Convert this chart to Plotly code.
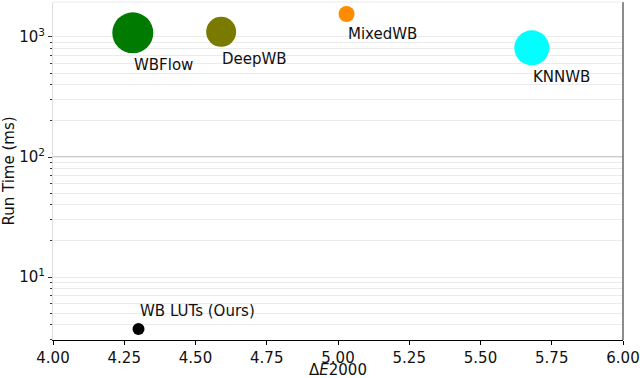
import math
import plotly.graph_objects as go

methods = ["WBFlow", "DeepWB", "MixedWB", "KNNWB", "WB LUTs (Ours)"]
delta_e = [4.28, 4.59, 5.03, 5.68, 4.30]
run_time = [1080, 1100, 1550, 810, 3.7]
bubble = [41, 30, 16, 35, 12]
colors = ["#007a00", "#7a7a00", "#ff8c00", "#00ffff", "#000000"]

font = "DejaVu Sans, Liberation Sans, sans-serif"
fs = 15

fig = go.Figure()
fig.add_trace(go.Scatter(
    x=delta_e, y=run_time, mode="markers",
    marker=dict(size=bubble, sizemode="diameter", color=colors, line=dict(width=0), opacity=1),
    showlegend=False, hoverinfo="text", text=methods,
))

# labels sit under each bubble, except ours which goes above
for m, x, y, s in zip(methods, delta_e, run_time, bubble):
    above = "Ours" in m
    fig.add_annotation(
        x=x, y=math.log10(y), xref="x", yref="y", text=m, showarrow=False,
        xanchor="left", yanchor="bottom" if above else "top",
        yshift=(s / 2 + 1) if above else -(s / 2 + 1), xshift=-1,
        font=dict(family=font, size=fs, color="#111"),
    )

# x title as annotation so it can hug the bottom edge like the original
fig.add_annotation(
    x=0.5, y=0, xref="paper", yref="paper", text="Δ<i>E</i>2000", showarrow=False,
    xanchor="center", yanchor="top", yshift=-20, borderpad=0,
    font=dict(family=font, size=fs, color="#111"),
)

minor_vals = [k * 10 ** e for e in range(0, 4) for k in range(2, 10)]

# darker line at 10^2
fig.add_shape(type="line", xref="paper", x0=0, x1=1, yref="y", y0=100, y1=100,
              line=dict(color="#999999", width=1.2), layer="below")

fig.update_xaxes(
    range=[4.0, 6.0], tickvals=[4.0, 4.25, 4.5, 4.75, 5.0, 5.25, 5.5, 5.75, 6.0],
    ticktext=["4.00", "4.25", "4.50", "4.75", "5.00", "5.25", "5.50", "5.75", "6.00"],
    ticks="outside", ticklen=4, tickcolor="#000", showgrid=False, zeroline=False,
    showline=True, linecolor="#000", linewidth=1.2, mirror=False, automargin=False,
    tickfont=dict(family=font, size=fs, color="#111"),
)
fig.update_yaxes(
    type="log", range=[0.477, 3.29], tickvals=[10, 100, 1000],
    ticktext=["10<sup>1</sup>", "10<sup>2</sup>", "10<sup>3</sup>"],
    ticks="outside", ticklen=4, tickcolor="#333", showgrid=True, gridcolor="#ebebeb", gridwidth=1,
    minor=dict(tickmode="array", tickvals=minor_vals, showgrid=True, gridcolor="#ebebeb",
               ticks="outside", ticklen=2, tickcolor="#333"),
    showline=True, linecolor="#e0e0e0", linewidth=1, zeroline=False, automargin=False,
    title=dict(text="Run Time (ms)", font=dict(family=font, size=fs, color="#111"), standoff=5),
    tickfont=dict(family=font, size=fs, color="#111"),
)

# right spine darker, top spine faint
fig.add_shape(type="line", xref="paper", yref="paper", x0=1, x1=1, y0=0, y1=1,
              line=dict(color="#666666", width=1.5))
fig.add_shape(type="line", xref="paper", yref="paper", x0=0, x1=1, y0=1, y1=1,
              line=dict(color="#ebebeb", width=1))

fig.update_layout(
    width=640, height=378, margin=dict(l=53, r=17, t=2, b=38),
    paper_bgcolor="white", plot_bgcolor="white",
    font=dict(family=font, size=fs, color="#111"),
)

fig.write_html("out.html", config={"displayModeBar": False},
               post_script="document.body.style.margin='0px';")
